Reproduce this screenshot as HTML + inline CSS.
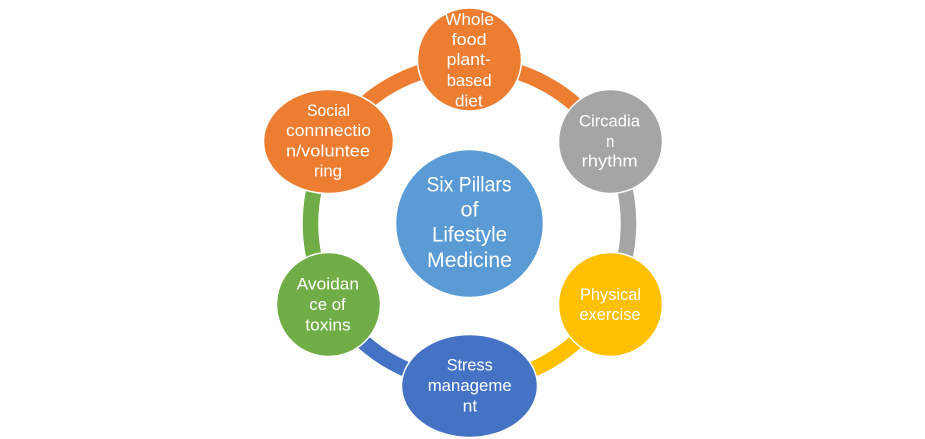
<!DOCTYPE html>
<html>
<head>
<meta charset="utf-8">
<style>
html,body{margin:0;padding:0;background:#fff;width:925px;height:439px;overflow:hidden}
svg{display:block}
text{font-family:"Liberation Sans",sans-serif;fill:#fff;font-size:17px}
.c text{font-size:21px}
</style>
</head>
<body>
<svg width="925" height="439" viewBox="0 0 925 439" xmlns="http://www.w3.org/2000/svg">
<g fill="none" stroke-width="15.5">
<path d="M469.5 64.5A159 159 0 0 1 607.2 144" stroke="#ED7D31"/>
<path d="M607.2 144A159 159 0 0 1 607.2 303" stroke="#A5A5A5"/>
<path d="M607.2 303A159 159 0 0 1 469.5 382.5" stroke="#FFC000"/>
<path d="M469.5 382.5A159 159 0 0 1 331.8 303" stroke="#4472C4"/>
<path d="M331.8 303A159 159 0 0 1 331.8 144" stroke="#70AD47"/>
<path d="M331.8 144A159 159 0 0 1 469.5 64.5" stroke="#ED7D31"/>
</g>
<g stroke="#fff" stroke-width="1.5">
<ellipse cx="469.5" cy="59.5" rx="52" ry="51.5" fill="#ED7D31"/>
<circle cx="610.5" cy="141.5" r="52" fill="#A5A5A5"/>
<circle cx="610.5" cy="304.5" r="52" fill="#FFC000"/>
<ellipse cx="469.5" cy="386" rx="68" ry="51.5" fill="#4472C4"/>
<circle cx="328.5" cy="304.5" r="52" fill="#70AD47"/>
<ellipse cx="328.5" cy="141.5" rx="65" ry="52" fill="#ED7D31"/>
<circle cx="469.5" cy="223.5" r="74" fill="#5B9BD5"/>
</g>
<g>
<text x="445" y="25" textLength="49" lengthAdjust="spacingAndGlyphs">Whole</text>
<text x="451.7" y="45" textLength="35" lengthAdjust="spacingAndGlyphs">food</text>
<text x="446.7" y="65" textLength="44" lengthAdjust="spacingAndGlyphs">plant-</text>
<text x="446.7" y="86" textLength="45" lengthAdjust="spacingAndGlyphs">based</text>
<text x="455" y="106.5" textLength="27.7" lengthAdjust="spacingAndGlyphs">diet</text>

<text x="579" y="126.7" textLength="61" lengthAdjust="spacingAndGlyphs">Circadia</text>
<text x="606.3" y="147" textLength="8" lengthAdjust="spacingAndGlyphs">n</text>
<text x="581.7" y="166.7" textLength="56" lengthAdjust="spacingAndGlyphs">rhythm</text>

<text x="580" y="300" textLength="61" lengthAdjust="spacingAndGlyphs">Physical</text>
<text x="579.5" y="320" textLength="61" lengthAdjust="spacingAndGlyphs">exercise</text>

<text x="446.7" y="370.7" textLength="46" lengthAdjust="spacingAndGlyphs">Stress</text>
<text x="427.7" y="391" textLength="84" lengthAdjust="spacingAndGlyphs">manageme</text>
<text x="462.7" y="411.7" textLength="14.6" lengthAdjust="spacingAndGlyphs">nt</text>

<text x="296.7" y="289.7" textLength="62.3" lengthAdjust="spacingAndGlyphs">Avoidan</text>
<text x="309.3" y="310" textLength="36.4" lengthAdjust="spacingAndGlyphs">ce of</text>
<text x="305.3" y="330.7" textLength="45.4" lengthAdjust="spacingAndGlyphs">toxins</text>

<text x="307" y="116" textLength="43" lengthAdjust="spacingAndGlyphs">Social</text>
<text x="286" y="136" textLength="85" lengthAdjust="spacingAndGlyphs">connnectio</text>
<text x="286" y="156.5" textLength="84" lengthAdjust="spacingAndGlyphs">n/voluntee</text>
<text x="314" y="176.5" textLength="28" lengthAdjust="spacingAndGlyphs">ring</text>
</g>
<g class="c">
<text x="426.5" y="191.5" textLength="85" lengthAdjust="spacingAndGlyphs">Six Pillars</text>
<text x="460.5" y="216.5" textLength="18" lengthAdjust="spacingAndGlyphs">of</text>
<text x="432" y="241.5" textLength="75" lengthAdjust="spacingAndGlyphs">Lifestyle</text>
<text x="427" y="267" textLength="85" lengthAdjust="spacingAndGlyphs">Medicine</text>
</g>
</svg>
</body>
</html>
